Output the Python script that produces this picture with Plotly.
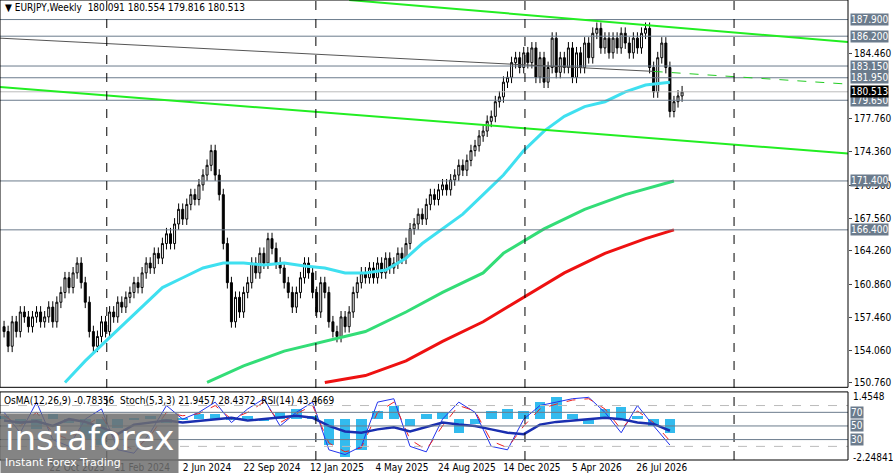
import plotly.graph_objects as go

closes = [156,154.5,157,156,158,157.5,156.5,157.5,158,157,
157.5,158.5,157,159,160,161.5,160.5,162,163,161,
159,156,154.5,155.5,157,156,158,157.5,159,158.5,
159.5,160,161,160.5,162,163,162.5,164,163.5,165,
166,165,167,168.5,167.5,169,170,169.5,171,172,
173,174.5,172,170,165,161,157,159.5,158,160,
161,163,162,164,163,165.5,164.5,163,162.5,161,
160,158.5,160,161.5,163,162,160,158,161,160,
157,156,155.5,157.5,156.5,158,160,161,162,161.5,
162.5,161.5,163,162,163.5,162.5,163,164,163.5,165,
166.5,167,168,167.5,169,170,169.5,170.5,171,170.5,
171.5,172,173,172.5,173.5,174.5,175,176,176.5,177.5,
178,179.5,180,181.5,182,183.5,184,183,184.5,183.5,
185,182,184,181.5,183,186,182.5,184,183,185,
182,184.5,183,185.5,184,186.5,187,185,186,184.5,
186,185,186.5,185.5,184.5,186,185,186.5,187,183,
180.5,184,185.5,183,178.5,179.5,180.091,180.513]
first_open = 156.5
wick = 0.6

ma_cyan_w = [15,20,25,30,35,39,44,49,54,59,64,69,74,79,84,89,94,99,103,108,113,118,123,128,133,138,143,148,153,158,164]
ma_cyan_v = [150.8,153,155,157,159,160.5,161.5,162.5,163,163,162.8,163,162.7,162.5,162,162,162.3,163.5,165,166.5,168,170,172,174.5,176.5,178,179,179.5,180.5,181.2,181.5]
ma_green_w = [50,59,69,79,89,99,108,118,123,133,143,153,165]
ma_green_v = [150.8,152.5,154,155,156,158,160,162,164,166.5,168.5,170,171.4]
ma_red_w = [79,89,99,108,118,128,138,148,158,165]
ma_red_v = [150.8,151.5,153,155,157,159.5,162,164,165.5,166.4]

levels = [187.9,186.2,183.15,181.95,179.65,171.4,166.4]
plain_ticks = [184.46,177.76,174.36,170.96,167.56,164.26,160.86,157.46,154.06,150.76]
last_price = 180.513

date_labels = ["2 Jul 2023","22 Oct 2023","11 Feb 2024","2 Jun 2024","22 Sep 2024","12 Jan 2025","4 May 2025","24 Aug 2025","14 Dec 2025","5 Apr 2026","26 Jul 2026"]
date_weeks = [2,18,34,50,66,82,98,114,130,146,162]

ind_w = list(range(0,168,4))
osma = [0.2,-0.3,-0.6,0.3,-0.2,-1.2,-1.5,-0.5,0.1,0.2,-0.2,0.1,0.3,0.3,0.1,0.2,-0.1,0.4,0.6,0.2,-1.5,-2.2,-1.8,0.5,0.8,-0.4,0.3,0.4,-0.8,-0.3,0.5,0.6,0.5,1.0,1.3,0.3,-0.3,0.6,0.7,0.2,-0.4,-0.78]
stoch = [70,40,85,30,20,60,75,15,10,40,80,60,70,85,55,75,90,50,70,85,15,8,20,85,90,20,12,60,85,70,20,15,60,80,85,90,92,70,40,80,50,22]
stoch_sig = [65,50,70,40,30,50,65,25,15,35,70,65,68,80,60,70,85,55,68,80,25,12,18,70,85,30,15,50,80,72,28,18,50,75,82,88,90,75,45,72,55,28]
rsi = [58,55,57,50,60,56,48,38,52,55,58,55,57,60,62,58,60,62,65,62,50,42,40,45,48,42,48,55,52,50,45,40,38,52,56,58,60,62,60,55,53,43]

weeks = list(range(len(closes)))
opens = [first_open] + closes[:-1]
highs = [max(o, c) + wick for o, c in zip(opens, closes)]
lows = [min(o, c) - wick for o, c in zip(opens, closes)]

F = "DejaVu Sans Condensed"
fig = go.Figure()
fig.add_trace(go.Candlestick(x=weeks, open=opens, high=highs, low=lows, close=closes,
    increasing=dict(fillcolor="white", line=dict(color="black", width=1)),
    decreasing=dict(fillcolor="black", line=dict(color="black", width=1)),
    whiskerwidth=0, showlegend=False, xaxis="x", yaxis="y"))
fig.add_trace(go.Scatter(x=ma_cyan_w, y=ma_cyan_v, mode="lines", line=dict(color="#3fe0f0", width=3), showlegend=False))
fig.add_trace(go.Scatter(x=ma_green_w, y=ma_green_v, mode="lines", line=dict(color="#33dd77", width=3), showlegend=False))
fig.add_trace(go.Scatter(x=ma_red_w, y=ma_red_v, mode="lines", line=dict(color="#ee1111", width=3), showlegend=False))

fig.add_trace(go.Bar(x=ind_w, y=osma, width=2.6, marker=dict(color="#33bbee", line_width=0), showlegend=False, xaxis="x", yaxis="y2"))
fig.add_trace(go.Scatter(x=ind_w, y=stoch, mode="lines", line=dict(color="#2233ee", width=1), showlegend=False, yaxis="y3"))
fig.add_trace(go.Scatter(x=ind_w, y=stoch_sig, mode="lines", line=dict(color="#ee2222", width=1, dash="dash"), showlegend=False, yaxis="y3"))
fig.add_trace(go.Scatter(x=ind_w, y=rsi, mode="lines", line=dict(color="#1a2fb0", width=2.5), showlegend=False, yaxis="y3"))

shapes = []
XMIN = -1
XMAX = XMIN + 848/4.06
for lv in levels:
    shapes.append(dict(type="line", xref="x", yref="y", x0=XMIN, x1=XMAX, y0=lv, y1=lv, line=dict(color="#6b7b8c", width=1)))
shapes.append(dict(type="line", xref="x", yref="y", x0=XMIN, x1=XMAX, y0=last_price, y1=last_price, line=dict(color="#bbbbbb", width=1)))
shapes.append(dict(type="line", xref="x", yref="y", x0=85, x1=XMAX, y0=189.9, y1=185.6, line=dict(color="#22ee22", width=2)))
shapes.append(dict(type="line", xref="x", yref="y", x0=XMIN, x1=XMAX, y0=181.0, y1=174.2, line=dict(color="#22ee22", width=2)))
shapes.append(dict(type="line", xref="x", yref="y", x0=XMIN, x1=160, y0=186.0, y1=182.6, line=dict(color="#555555", width=1)))
shapes.append(dict(type="line", xref="x", yref="y", x0=160, x1=XMAX, y0=182.6, y1=181.3, line=dict(color="#22cc22", width=1, dash="dash")))
for w in [25.3, 76.8, 128.3, 179.8]:
    shapes.append(dict(type="line", xref="x", yref="paper", x0=w, x1=w, y0=0, y1=1, line=dict(color="black", width=1, dash="dash")))
for lv in [70, 50, 30]:
    shapes.append(dict(type="line", xref="x", yref="y3", x0=XMIN, x1=XMAX, y0=lv, y1=lv, line=dict(color="#6b7b8c", width=1)))
for lv in [80, 20]:
    shapes.append(dict(type="line", xref="x", yref="y3", x0=XMIN, x1=XMAX, y0=lv, y1=lv, line=dict(color="#bbbbbb", width=1, dash="dash")))
shapes.append(dict(type="rect", xref="paper", yref="paper", x0=0, x1=1, y0=0, y1=0.148, line=dict(color="black", width=1)))
shapes.append(dict(type="rect", xref="paper", yref="paper", x0=0, x1=1, y0=0.158, y1=1, line=dict(color="black", width=1)))

ann = []
for lv in levels:
    ann.append(dict(xref="paper", yref="y", x=1.002, y=lv, xanchor="left", text=f"{lv:.3f}", showarrow=False,
        font=dict(family=F, size=10, color="white"), bgcolor="#6b7b8c", borderpad=0))
ann.append(dict(xref="paper", yref="y", x=1.002, y=last_price, xanchor="left", text=f"{last_price:.3f}", showarrow=False,
    font=dict(family=F, size=10, color="white"), bgcolor="black", borderpad=0))
for lv in [70, 50, 30]:
    ann.append(dict(xref="paper", yref="y3", x=1.002, y=lv, xanchor="left", text=str(lv), showarrow=False,
        font=dict(family=F, size=10, color="white"), bgcolor="#6b7b8c", borderpad=0))
ann.append(dict(xref="paper", yref="paper", x=1.003, y=0.155, xanchor="left", yanchor="top", text="1.4548", showarrow=False, font=dict(family=F, size=10, color="black")))
ann.append(dict(xref="paper", yref="paper", x=1.003, y=-0.01, xanchor="left", yanchor="bottom", text="-2.24841", showarrow=False, font=dict(family=F, size=10, color="black")))
ann.append(dict(xref="paper", yref="paper", x=0.003, y=0.999, xanchor="left", yanchor="top", showarrow=False,
    text="▼ EURJPY,Weekly  180.091 180.554 179.816 180.513", font=dict(family=F, size=10, color="black")))
ann.append(dict(xref="paper", yref="paper", x=0.002, y=0.146, xanchor="left", yanchor="top", showarrow=False,
    text="OsMA(12,26,9) -0.78356  Stoch(5,3,3) 21.9457 28.4372  RSI(14) 43.4669", font=dict(family=F, size=10, color="black")))
ann.append(dict(xref="paper", yref="paper", x=0.0, y=-0.03, xanchor="left", yanchor="bottom", showarrow=False,
    text="<span style='font-size:34px'>instaforex</span><br><span style='font-size:11px'>Instant Forex Trading</span>",
    font=dict(family="DejaVu Sans", color="white"), bgcolor="rgba(110,110,110,0.85)", borderpad=4, align="left"))

fig.update_layout(
    width=893, height=473, margin=dict(l=0, r=45, t=0, b=13, autoexpand=False),
    paper_bgcolor="white", plot_bgcolor="white", bargap=0,
    shapes=shapes, annotations=ann,
    xaxis=dict(range=[XMIN, XMAX], showgrid=False, rangeslider=dict(visible=False), tickvals=date_weeks, ticktext=date_labels,
               tickangle=0, tickfont=dict(family=F, size=10, color="black"), ticks="", anchor="y2", zeroline=False),
    yaxis=dict(domain=[0.158, 1], range=[150.3, 189.9], side="right", showgrid=False, tickvals=plain_ticks,
               ticktext=[f"{v:.3f}" for v in plain_ticks], ticks="outside", ticklen=3,
               tickfont=dict(family=F, size=10, color="black"), zeroline=False),
    yaxis2=dict(domain=[0, 0.148], range=[-2.4, 1.6], side="right", showgrid=False, showticklabels=False, zeroline=False),
    yaxis3=dict(overlaying="y2", range=[0, 100], showgrid=False, showticklabels=False, zeroline=False),
)
fig.write_html("out.html", config={"displayModeBar": False},
               post_script="document.body.style.margin='0';document.body.style.overflow='hidden';")
